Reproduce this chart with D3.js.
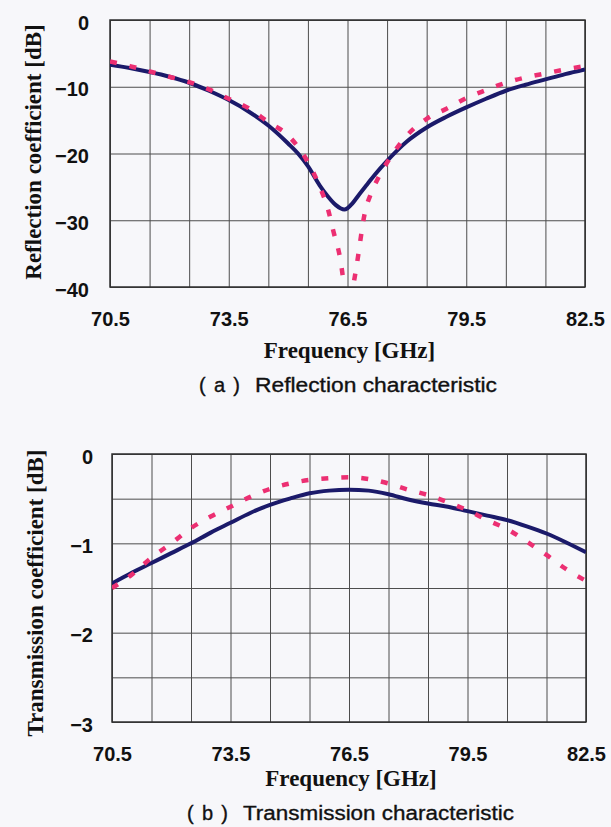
<!DOCTYPE html>
<html>
<head>
<meta charset="utf-8">
<script src="https://cdn.jsdelivr.net/npm/d3@7"></script>
<style>
  html, body { margin: 0; padding: 0; background: #f7f7fa; }
  svg { display: block; }
  .grade line { stroke: #4d4d4d; stroke-width: 1; }
  .grade path { display: none; }
  .rotulo-eixo text { font-family: "Liberation Sans", Arial, sans-serif; font-weight: bold; font-size: 20px; fill: #111; }
  .rotulo-eixo path { display: none; }
  .titulo { font-family: "Liberation Serif", "Times New Roman", serif; font-weight: bold; font-size: 23px; fill: #111; }
  .legenda { font-family: "Liberation Sans", Arial, sans-serif; font-size: 20px; fill: #111; stroke: #111; stroke-width: 0.35; }
</style>
</head>
<body>
<svg id="figura" width="611" height="827"></svg>
<script>
// eixo de frequencia (GHz)
var frequenciaGrade = [70.5, 71.5, 72.5, 73.5, 74.5, 75.5, 76.5, 77.5, 78.5, 79.5, 80.5, 81.5, 82.5];
var frequenciaRotulos = [70.5, 73.5, 76.5, 79.5, 82.5];

// (a) reflexao [dB]
var reflexaoTicks = [0, -10, -20, -30, -40];
var reflexaoGrade = [0, -10, -20, -30, -40];
var reflexaoFreqMedido = [70.5, 71.0, 71.5, 72.0, 72.5, 73.0, 73.5, 74.0, 74.5, 75.0, 75.25, 75.5, 75.8, 76.0, 76.2, 76.32, 76.42, 76.5, 76.62, 76.8, 77.0, 77.2, 77.5, 78.0, 78.5, 79.0, 79.5, 80.0, 80.5, 81.0, 81.5, 82.0, 82.5];
var reflexaoMedido     = [-6.7, -7.2, -7.8, -8.5, -9.4, -10.6, -12.0, -13.7, -15.8, -18.5, -20.0, -21.9, -24.8, -26.4, -27.7, -28.2, -28.4, -28.2, -27.5, -26.1, -24.6, -23.1, -21.1, -18.2, -16.1, -14.5, -13.1, -11.8, -10.6, -9.7, -8.9, -8.1, -7.4];
var reflexaoFreqSimulado = [70.5, 71.0, 71.5, 72.0, 72.5, 73.0, 73.5, 74.0, 74.5, 75.0, 75.5, 75.8, 76.0, 76.15, 76.32, 76.42, 76.53, 76.64, 76.72, 76.96, 77.08, 77.29, 77.55, 77.97, 78.5, 79.0, 79.5, 80.0, 80.5, 81.0, 81.5, 82.0, 82.5];
var reflexaoSimulado     = [-6.2, -6.9, -7.7, -8.5, -9.3, -10.4, -11.8, -13.2, -15.3, -17.3, -21.3, -25.0, -28.2, -31.8, -35.9, -40.0, -44.0, -40.0, -37.2, -28.3, -26.2, -23.5, -20.9, -17.5, -14.8, -13.3, -11.7, -10.5, -9.4, -8.6, -8.0, -7.4, -6.9];

// (b) transmissao [dB]
var transmissaoTicks = [0, -1, -2, -3];
var transmissaoGrade = [0, -0.5, -1, -1.5, -2, -2.5, -3];
var transmissaoFreq = [70.5, 71.0, 71.5, 72.0, 72.5, 73.0, 73.5, 74.0, 74.5, 75.0, 75.5, 76.0, 76.5, 77.0, 77.5, 78.0, 78.5, 79.0, 79.5, 80.0, 80.5, 81.0, 81.5, 82.0, 82.5];
var transmissaoMedido   = [-1.45, -1.33, -1.22, -1.11, -1.00, -0.88, -0.77, -0.66, -0.57, -0.50, -0.44, -0.41, -0.40, -0.41, -0.45, -0.51, -0.555, -0.59, -0.64, -0.69, -0.74, -0.81, -0.89, -0.99, -1.10];
var transmissaoSimulado = [-1.50, -1.35, -1.16, -1.00, -0.83, -0.70, -0.59, -0.48, -0.39, -0.33, -0.29, -0.27, -0.26, -0.28, -0.33, -0.40, -0.46, -0.54, -0.63, -0.74, -0.84, -0.98, -1.13, -1.29, -1.42];

function grafico(parametros) {
    var svg = d3.select(parametros.seletor);
    var m = parametros.margem;
    var largura = m.direita - m.esquerda;
    var altura = m.inferior - m.superior;

    var plotagem = svg.append('g')
                      .attr('transform', 'translate('+m.esquerda+','+m.superior+')');

    var x = d3.scaleLinear()
              .domain([70.5, 82.5])
              .range([0, largura]);
    var y = d3.scaleLinear()
              .domain(parametros.dominioY)
              .range([0, altura]);

    // grade
    plotagem.append('g')
            .attr('class', 'grade')
            .attr('transform', 'translate(0,'+altura+')')
            .call(d3.axisBottom(x).tickValues(frequenciaGrade).tickSize(-altura).tickFormat(''));
    plotagem.append('g')
            .attr('class', 'grade')
            .call(d3.axisLeft(y).tickValues(parametros.gradeY).tickSize(-largura).tickFormat(''));

    plotagem.append('rect')
            .attr('width', largura)
            .attr('height', altura)
            .attr('fill', 'none')
            .attr('stroke', '#2e2e2e')
            .attr('stroke-width', 1.5);

    // rotulos
    plotagem.append('g')
            .attr('class', 'rotulo-eixo')
            .attr('transform', 'translate(0,'+altura+')')
            .call(d3.axisBottom(x).tickValues(frequenciaRotulos).tickSize(0).tickPadding(25).tickFormat(d3.format('.1f')));
    plotagem.append('g')
            .attr('class', 'rotulo-eixo')
            .call(d3.axisLeft(y).tickValues(parametros.ticksY).tickSize(0).tickPadding(parametros.recuoY).tickFormat(d3.format('d')))
            .selectAll('text').attr('dy', '0.45em');

    // curvas
    var idClip = 'clip-' + parametros.id;
    plotagem.append('clipPath')
            .attr('id', idClip)
            .append('rect')
            .attr('width', largura)
            .attr('height', altura);

    var linha = d3.line()
                  .x(d => x(d[0]))
                  .y(d => y(d[1]))
                  .curve(d3.curveMonotoneX);

    plotagem.append('path')
            .datum(d3.zip(parametros.freqMedido, parametros.medido))
            .attr('clip-path', 'url(#'+idClip+')')
            .attr('fill', 'none')
            .attr('stroke', '#1b1a6a')
            .attr('stroke-width', 4)
            .attr('stroke-linejoin', 'round')
            .attr('d', linha);

    plotagem.append('path')
            .datum(d3.zip(parametros.freqSimulado, parametros.simulado))
            .attr('clip-path', 'url(#'+idClip+')')
            .attr('fill', 'none')
            .attr('stroke', '#ec2f72')
            .attr('stroke-width', 4.5)
            .attr('stroke-dasharray', '7,13')
            .attr('d', linha);

    // titulos
    svg.append('text')
       .attr('class', 'titulo')
       .style('text-anchor', 'middle')
       .attr('transform', 'translate('+parametros.tituloYx+','+parametros.tituloYcentro+') rotate(-90)')
       .text(parametros.tituloY);

    svg.append('text')
       .attr('class', 'titulo')
       .style('text-anchor', 'middle')
       .attr('x', m.esquerda + largura/2 + 2)
       .attr('y', m.inferior + parametros.tituloXrecuo)
       .text('Frequency [GHz]');

    svg.append('text')
       .attr('class', 'legenda')
       .attr('x', parametros.legendaX)
       .attr('y', m.inferior + parametros.legendaRecuo)
       .attr('textLength', 41)
       .attr('lengthAdjust', 'spacing')
       .text('( ' + parametros.letra + ' )');

    svg.append('text')
       .attr('class', 'legenda')
       .attr('x', parametros.legendaX + 56)
       .attr('y', m.inferior + parametros.legendaRecuo)
       .attr('textLength', parametros.legendaLargura)
       .attr('lengthAdjust', 'spacingAndGlyphs')
       .text(parametros.legenda);
}

grafico({
    seletor: '#figura',
    id: 'a',
    margem: {esquerda: 110, direita: 585, superior: 20, inferior: 287},
    dominioY: [0, -40],
    ticksY: reflexaoTicks,
    gradeY: reflexaoGrade,
    recuoY: 21,
    freqMedido: reflexaoFreqMedido,
    medido: reflexaoMedido,
    freqSimulado: reflexaoFreqSimulado,
    simulado: reflexaoSimulado,
    tituloY: 'Reflection coefficient [dB]',
    tituloYx: 41,
    tituloYcentro: 152,
    tituloXrecuo: 71,
    letra: 'a',
    legenda: 'Reflection characteristic',
    legendaX: 199,
    legendaLargura: 242,
    legendaRecuo: 105
});

grafico({
    seletor: '#figura',
    id: 'b',
    margem: {esquerda: 112, direita: 586, superior: 454, inferior: 722},
    dominioY: [0, -3],
    ticksY: transmissaoTicks,
    gradeY: transmissaoGrade,
    recuoY: 19,
    freqMedido: transmissaoFreq,
    medido: transmissaoMedido,
    freqSimulado: transmissaoFreq,
    simulado: transmissaoSimulado,
    tituloY: 'Transmission coefficient [dB]',
    tituloYx: 43,
    tituloYcentro: 593,
    tituloXrecuo: 64,
    letra: 'b',
    legenda: 'Transmission characteristic',
    legendaX: 187,
    legendaLargura: 271,
    legendaRecuo: 98
});
</script>
</body>
</html>
